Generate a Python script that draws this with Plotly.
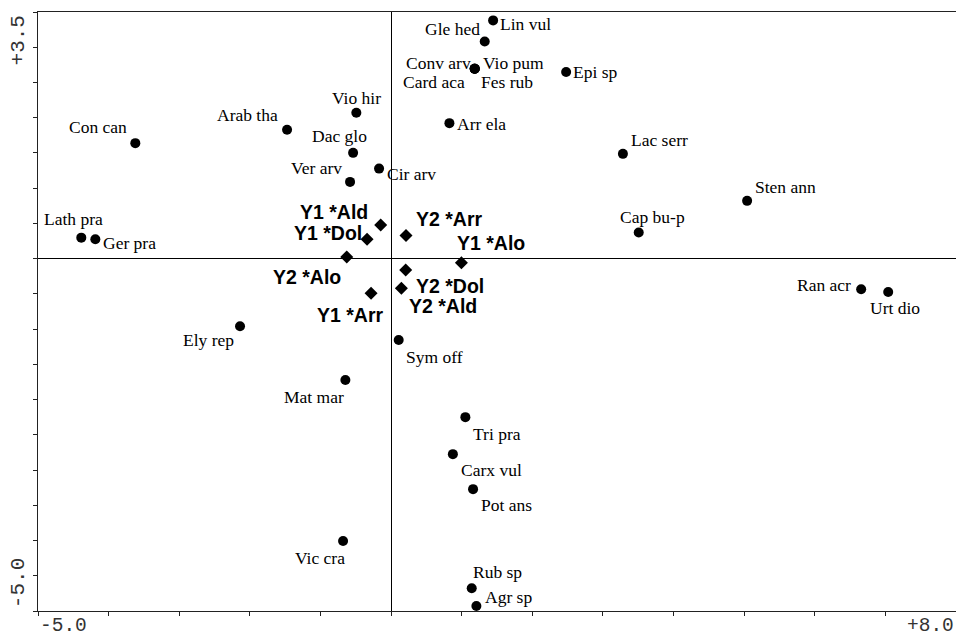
import plotly.graph_objects as go

# Species scores (axis 1, axis 2)
species = ["Lin vul", "Gle hed", "Conv arv", "Vio pum", "Card aca", "Fes rub", "Epi sp",
           "Vio hir", "Arab tha", "Arr ela", "Con can", "Dac glo", "Lac serr", "Cir arv",
           "Ver arv", "Sten ann", "Cap bu-p", "Lath pra", "Ger pra", "Ran acr", "Urt dio",
           "Ely rep", "Sym off", "Mat mar", "Tri pra", "Carx vul", "Pot ans", "Vic cra",
           "Rub sp", "Agr sp"]
species_ax1 = [1.445, 1.326, 1.184, 1.184, 1.184, 1.184, 2.479,
               -0.492, -1.473, 0.826, -3.622, -0.538, 3.283, -0.170,
               -0.581, 5.042, 3.507, -4.387, -4.188, 6.657, 7.040,
               -2.139, 0.108, -0.647, 1.052, 0.875, 1.161, -0.680,
               1.142, 1.208]
species_ax2 = [3.381, 3.082, 2.695, 2.695, 2.695, 2.695, 2.648,
               2.070, 1.828, 1.923, 1.639, 1.501, 1.487, 1.278,
               1.089, 0.820, 0.372, 0.298, 0.276, -0.435, -0.473,
               -0.960, -1.155, -1.723, -2.249, -2.774, -3.271, -4.006,
               -4.678, -4.929]

# Year x treatment centroids
centroids = ["Y1 *Ald", "Y1 *Dol", "Y2 *Arr", "Y1 *Alo", "Y2 *Alo", "Y2 *Dol", "Y2 *Ald", "Y1 *Arr"]
centroid_ax1 = [-0.147, -0.340, 0.211, 0.996, -0.628, 0.207, 0.146, -0.283]
centroid_ax2 = [0.479, 0.277, 0.327, -0.057, 0.024, -0.161, -0.420, -0.491]

# Axis extents and their printed labels
x_range = [-5.0, 8.0]
y_range = [-5.0, 3.5]
x_range_labels = ["-5.0", "+8.0"]
y_range_labels = ["-5.0", "+3.5"]

# Label placement: anchor side, horizontal shift (px), vertical shift (px, down positive)
species_place = {
    "Lin vul": ("left", 5, 4), "Gle hed": ("right", -3, -12), "Conv arv": ("right", -2, -6),
    "Vio pum": ("left", 6, -6), "Card aca": ("right", -8, 13), "Fes rub": ("left", 4, 13),
    "Epi sp": ("left", 5, 0), "Vio hir": ("center", 0, -15), "Arab tha": ("right", -7, -15),
    "Arr ela": ("left", 6, 1), "Con can": ("right", -6, -16), "Dac glo": ("center", -14, -17),
    "Lac serr": ("left", 6, -14), "Cir arv": ("left", 6, 5), "Ver arv": ("right", -6, -14),
    "Sten ann": ("left", 6, -14), "Cap bu-p": ("center", 14, -15), "Lath pra": ("center", -8, -19),
    "Ger pra": ("left", 6, 4), "Ran acr": ("right", -8, -4), "Urt dio": ("center", 7, 16),
    "Ely rep": ("right", -4, 14), "Sym off": ("left", 5, 17), "Mat mar": ("right", 1, 17),
    "Tri pra": ("left", 6, 17), "Carx vul": ("left", 6, 16), "Pot ans": ("left", 6, 16),
    "Vic cra": ("right", 4, 17), "Rub sp": ("left", -1, -16), "Agr sp": ("left", 7, -9),
}
centroid_place = {
    "Y1 *Ald": ("right", -11, -13), "Y1 *Dol": ("right", -3, -6), "Y2 *Arr": ("left", 8, -17),
    "Y1 *Alo": ("left", -6, -20), "Y2 *Alo": ("right", -4, 20), "Y2 *Dol": ("left", 8, 16),
    "Y2 *Ald": ("left", 6, 18), "Y1 *Arr": ("right", 15, 22),
}

fig = go.Figure()

fig.add_trace(go.Scatter(
    x=species_ax1, y=species_ax2, mode="markers",
    marker=dict(symbol="circle", size=10, color="black"),
    hovertext=species, hoverinfo="text", showlegend=False, cliponaxis=False,
))
fig.add_trace(go.Scatter(
    x=centroid_ax1, y=centroid_ax2, mode="markers",
    marker=dict(symbol="diamond", size=10, color="black"),
    hovertext=centroids, hoverinfo="text", showlegend=False, cliponaxis=False,
))

annotations = []
for name, x, y in zip(species, species_ax1, species_ax2):
    side, dx, dy = species_place[name]
    annotations.append(dict(
        x=x, y=y, xref="x", yref="y", text=name, showarrow=False,
        xanchor=side, yanchor="middle", xshift=dx, yshift=-dy,
        font=dict(family="Liberation Serif, Times New Roman, serif", size=17.5, color="black"),
    ))
for name, x, y in zip(centroids, centroid_ax1, centroid_ax2):
    side, dx, dy = centroid_place[name]
    annotations.append(dict(
        x=x, y=y, xref="x", yref="y", text=name, showarrow=False,
        xanchor=side, yanchor="middle", xshift=dx, yshift=-dy,
        font=dict(family="Liberation Sans, Arial, sans-serif", size=19.5,
                  color="black", weight="bold"),
    ))

# Range labels at the axis ends
mono = dict(family="Liberation Mono, Courier New, monospace", size=21, color="#333333")
mono_x = dict(mono, size=19.5)
annotations += [
    dict(x=x_range[0], y=-0.004, xref="x", yref="paper", text=x_range_labels[0],
         showarrow=False, xanchor="left", yanchor="top", font=mono_x),
    dict(x=x_range[1], y=-0.004, xref="x", yref="paper", text=x_range_labels[1],
         showarrow=False, xanchor="right", yanchor="top", font=mono_x),
    dict(x=-0.021, y=0.952, xref="paper", yref="paper", text=y_range_labels[1],
         showarrow=False, textangle=-90, xanchor="center", yanchor="middle", font=mono),
    dict(x=-0.021, y=0.046, xref="paper", yref="paper", text=y_range_labels[0],
         showarrow=False, textangle=-90, xanchor="center", yanchor="middle", font=mono),
]

axis_common = dict(
    showgrid=False, zeroline=True, zerolinecolor="black", zerolinewidth=1,
    showline=True, linecolor="#222222", linewidth=1,
    ticks="outside", ticklen=4, tickwidth=1, tickcolor="#222222",
    showticklabels=False,
)

fig.update_layout(
    width=956, height=637,
    margin=dict(l=38, r=0, t=12, b=26, pad=0),
    paper_bgcolor="white", plot_bgcolor="white",
    xaxis=dict(range=x_range, tickmode="linear", tick0=-5, dtick=1, mirror=True, **axis_common),
    yaxis=dict(range=y_range, tickmode="linear", tick0=-5, dtick=0.5, mirror=False, **axis_common),
    annotations=annotations,
)

fig.write_html("out.html")
